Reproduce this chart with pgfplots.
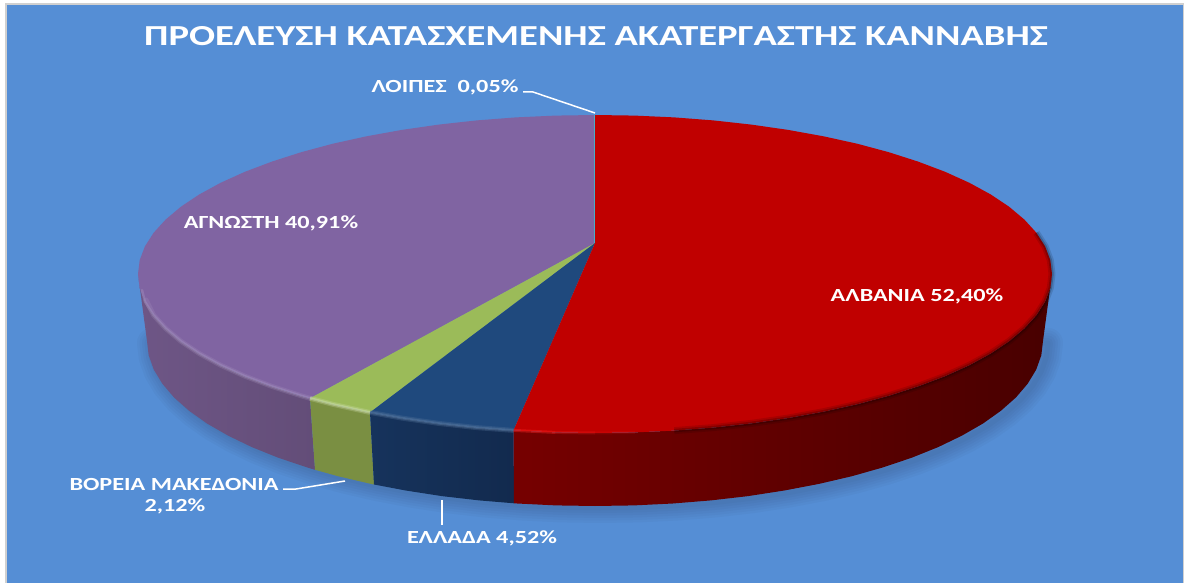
\documentclass[border=0pt]{standalone}
\usepackage{fontspec}
\setmainfont{Carlito}
\usepackage{pgfplots}
\usepackage{pgfplotstable}
\pgfplotsset{compat=1.18}
\definecolor{bgblue}{HTML}{558ED5}
\definecolor{framegrey}{HTML}{D0D0D0}
\definecolor{faceRed}{HTML}{C00000}
\definecolor{faceBlue}{HTML}{1F497D}
\definecolor{faceGreen}{HTML}{9BBB59}
\definecolor{facePurple}{HTML}{8064A2}
\definecolor{sliver}{HTML}{4BACC6}
\definecolor{wallPurpleA}{HTML}{6E5686}
\definecolor{wallPurpleB}{HTML}{634D78}
\definecolor{wallGreen}{HTML}{7A8F42}
\definecolor{wallBlueA}{HTML}{16335C}
\definecolor{wallBlueB}{HTML}{122A4E}
\definecolor{wallRedA}{HTML}{760000}
\definecolor{wallRedB}{HTML}{490000}
\definecolor{wallRedC}{HTML}{480000}

% lower outline of the pie body, pixel coordinates of the reference
\pgfplotstableread{
x y
1043 341
1041.3 355.4
1036.2 369.6
1027.7 383.7
1016 397.4
1001 410.7
983 423.5
962 435.6
938.2 447.1
911.8 457.7
883 467.4
852 476.2
819 483.9
784.3 490.5
748.2 496.1
710.9 500.4
672.8 503.5
634.1 505.4
595 506
555.9 505.4
517.2 503.5
479.1 500.4
441.8 496.1
405.7 490.5
371 483.9
338 476.2
307 467.4
278.2 457.7
251.8 447.1
228 435.6
207 423.5
189 410.7
174 397.4
162.3 383.7
153.8 369.6
148.7 355.4
147 341
}\bodyoutline

\tikzset{lab/.style={text=white,font=\bfseries\fontsize{18.5}{20}\selectfont,inner sep=0pt,align=center,xscale=1.31,transform shape}}

\begin{document}
\begin{tikzpicture}
\begin{axis}[
  at={(0,0)}, anchor=south west,
  width=1184pt, height=583pt, scale only axis,
  xmin=0, xmax=1184, ymin=0, ymax=583, y dir=reverse,
  hide axis, clip=true,
  every axis plot/.append style={line join=round},
]
% page and frame: the white sheet fixes the page size, a hidden axis adds nothing to it
\addplot[fill=white,draw=none] coordinates {(0,0) (1184,0) (1184,583) (0,583)} -- cycle;
\addplot[fill=framegrey,draw=none] coordinates {(4.5,3.5) (1184,3.5) (1184,583) (4.5,583)} -- cycle;
\addplot[fill=bgblue,draw=none] coordinates {(7,5) (1183,5) (1183,583) (7,583)} -- cycle;

% soft shadow under the body
\pgfplotsinvokeforeach{30,25,20,15,10,5}{
  \addplot[fill=none,draw=black,draw opacity=0.022,line width=#1 pt,xshift=5pt,yshift=-2pt] table {\bodyoutline} -- cycle;
}

% side walls
\addplot[draw=none,left color=wallPurpleA,right color=wallPurpleB] coordinates {
(138,274) (139.7,287.9) (144.9,301.6) (153.6,315.2) (165.6,328.4) (180.8,341.2) (199.2,353.5) (220.6,365.2) (244.9,376.2) (271.9,386.4) (301.2,395.8) (310,398.3)
(315,469.8) (307,467.4) (278.2,457.7) (251.8,447.1) (228,435.6) (207,423.5) (189,410.7) (174,397.4) (162.3,383.7) (153.8,369.6) (148.7,355.4) (147,341)} -- cycle;
\addplot[draw=none,fill=wallGreen] coordinates {
(310,398.3) (332.9,404.3) (366.5,411.7) (370,412.4) (374,484.5) (371,483.9) (338,476.2) (315,469.8)} -- cycle;
\addplot[draw=none,left color=wallBlueA,right color=wallBlueB] coordinates {
(370,412.4) (401.9,418.1) (438.7,423.4) (476.7,427.6) (513.5,430.4) (514,503.3) (479.1,500.4) (441.8,496.1) (405.7,490.5) (374,484.5)} -- cycle;
\addplot[draw=none,left color=wallRedA,middle color=wallRedB,right color=wallRedC] coordinates {
(513.5,430.4) (555.1,432.4) (595,433) (634.9,432.4) (674.3,430.6) (713.3,427.6) (751.3,423.4) (788.1,418.1) (823.5,411.7) (857.1,404.3) (888.8,395.8) (918.1,386.4) (945.1,376.2) (969.4,365.2) (990.8,353.5) (1009.2,341.2) (1024.4,328.4) (1036.4,315.2) (1045.1,301.6) (1050.3,287.9) (1052,274)
(1043,341) (1041.3,355.4) (1036.2,369.6) (1027.7,383.7) (1016,397.4) (1001,410.7) (983,423.5) (962,435.6) (938.2,447.1) (911.8,457.7) (883,467.4) (852,476.2) (819,483.9) (784.3,490.5) (748.2,496.1) (710.9,500.4) (672.8,503.5) (634.1,505.4) (595,506) (555.9,505.4) (517.2,503.5) (514,503.3)} -- cycle;

% top faces
\addplot[draw=none,fill=facePurple] coordinates {
(595,243) (310,398.3) (301.2,395.8) (271.9,386.4) (244.9,376.2) (220.6,365.2) (199.2,353.5) (180.8,341.2) (165.6,328.4) (153.6,315.2) (144.9,301.6) (139.7,287.9) (138,274)
(139.7,260.1) (144.9,246.4) (153.6,232.8) (165.6,219.6) (180.8,206.8) (199.2,194.5) (220.6,182.8) (244.9,171.8) (271.9,161.6) (301.2,152.2) (332.9,143.7) (366.5,136.3) (401.9,129.9) (438.7,124.6) (476.7,120.4) (515.7,117.4) (555.1,115.6) (595,115)} -- cycle;
\addplot[draw=none,fill=faceGreen] coordinates {
(595,243) (370,412.4) (366.5,411.7) (332.9,404.3) (310,398.3)} -- cycle;
\addplot[draw=none,fill=faceBlue] coordinates {
(595,243) (513.5,430.4) (476.7,427.6) (438.7,423.4) (401.9,418.1) (370,412.4)} -- cycle;
\addplot[draw=none,fill=faceRed] coordinates {
(595,243) (595,115) (634.9,115.6) (674.3,117.4) (713.3,120.4) (751.3,124.6) (788.1,129.9) (823.5,136.3) (857.1,143.7) (888.8,152.2) (918.1,161.6) (945.1,171.8) (969.4,182.8) (990.8,194.5) (1009.2,206.8) (1024.4,219.6) (1036.4,232.8) (1045.1,246.4) (1050.3,260.1) (1052,274)
(1050.3,287.9) (1045.1,301.6) (1036.4,315.2) (1024.4,328.4) (1009.2,341.2) (990.8,353.5) (969.4,365.2) (945.1,376.2) (918.1,386.4) (888.8,395.8) (857.1,404.3) (823.5,411.7) (788.1,418.1) (751.3,423.4) (713.3,427.6) (674.3,430.6) (634.9,432.4) (595,433) (555.1,432.4) (513.5,430.4)} -- cycle;
% hairline for the 0,05% slice
\addplot[draw=sliver,line width=0.8pt] coordinates {(594.6,243) (594.6,115)};

% bevel along the rim
\addplot[draw=white!35!facePurple,line width=5pt,draw opacity=0.22,line cap=round] coordinates {
(146,300) (153.6,315.2) (165.6,328.4) (180.8,341.2) (199.2,353.5) (220.6,365.2) (244.9,376.2) (271.9,386.4) (301.2,395.8) (310,398.3)};
\addplot[draw=white!35!facePurple,line width=2.5pt,draw opacity=0.35,line cap=round] coordinates {
(142,290) (144.9,301.6) (153.6,315.2) (165.6,328.4) (180.8,341.2) (199.2,353.5) (220.6,365.2) (244.9,376.2) (271.9,386.4) (301.2,395.8) (310,398.3)};
\addplot[draw=white!55!faceGreen,line width=5pt,draw opacity=0.25] coordinates {
(310,398.3) (332.9,404.3) (366.5,411.7) (370,412.4)};
\addplot[draw=white!55!faceGreen,line width=2.5pt,draw opacity=0.45] coordinates {
(310,398.3) (332.9,404.3) (366.5,411.7) (370,412.4)};
\addplot[draw=white!25!faceBlue,line width=5pt,draw opacity=0.3] coordinates {
(370,412.4) (401.9,418.1) (438.7,423.4) (476.7,427.6) (513.5,430.4)};
\addplot[draw=white!25!faceBlue,line width=2.5pt,draw opacity=0.5] coordinates {
(370,412.4) (401.9,418.1) (438.7,423.4) (476.7,427.6) (513.5,430.4)};
\addplot[draw=red!85!white,line width=3pt,draw opacity=0.4] coordinates {(513.5,430.4) (555.1,432.4)};
\addplot[draw=red!85!white,line width=3pt,draw opacity=0.25] coordinates {(555.1,432.4) (595,433)};
\addplot[draw=red!85!white,line width=3pt,draw opacity=0.12] coordinates {(595,433) (634.9,432.4)};
% dark blur on the red edge, right hand side
\addplot[draw=black,line width=7pt,draw opacity=0.12] coordinates {
(1036.4,232.8) (1045.1,246.4) (1050.3,260.1) (1052,274) (1050.3,287.9) (1045.1,301.6) (1036.4,315.2) (1024.4,328.4) (1009.2,341.2) (990.8,353.5) (969.4,365.2) (945.1,376.2) (918.1,386.4) (888.8,395.8) (857.1,404.3) (823.5,411.7) (788.1,418.1) (751.3,423.4) (713.3,427.6) (674.3,430.6)};
\addplot[draw=black,line width=3.5pt,draw opacity=0.2] coordinates {
(1036.4,232.8) (1045.1,246.4) (1050.3,260.1) (1052,274) (1050.3,287.9) (1045.1,301.6) (1036.4,315.2) (1024.4,328.4) (1009.2,341.2) (990.8,353.5) (969.4,365.2) (945.1,376.2) (918.1,386.4) (888.8,395.8) (857.1,404.3) (823.5,411.7) (788.1,418.1) (751.3,423.4) (713.3,427.6) (674.3,430.6)};

% leader lines
\addplot[draw=white,line width=1.5pt] coordinates {(523,92) (533,92) (595,113)};
\addplot[draw=white,line width=1.5pt] coordinates {(283,489) (296,489) (345,481)};
\addplot[draw=white,line width=1.5pt] coordinates {(442,500) (442,525)};

% title and labels
\node[text=white,font=\bfseries\fontsize{29}{32}\selectfont,inner sep=0pt,anchor=center,xscale=1.33,transform shape] at (axis cs:596,36) {ΠΡΟΕΛΕΥΣΗ ΚΑΤΑΣΧΕΜΕΝΗΣ ΑΚΑΤΕΡΓΑΣΤΗΣ ΚΑΝΝΑΒΗΣ};
\node[lab] at (axis cs:917,296) {ΑΛΒΑΝΙΑ 52,40\%};
\node[lab] at (axis cs:271,223) {ΑΓΝΩΣΤΗ 40,91\%};
\node[lab] at (axis cs:445,87) {ΛΟΙΠΕΣ~~0,05\%};
\node[lab] at (axis cs:174,484) {ΒΟΡΕΙΑ ΜΑΚΕΔΟΝΙΑ};
\node[lab] at (axis cs:175,506) {2,12\%};
\node[lab] at (axis cs:482,538) {ΕΛΛΑΔΑ 4,52\%};
\end{axis}
\end{tikzpicture}
\end{document}
